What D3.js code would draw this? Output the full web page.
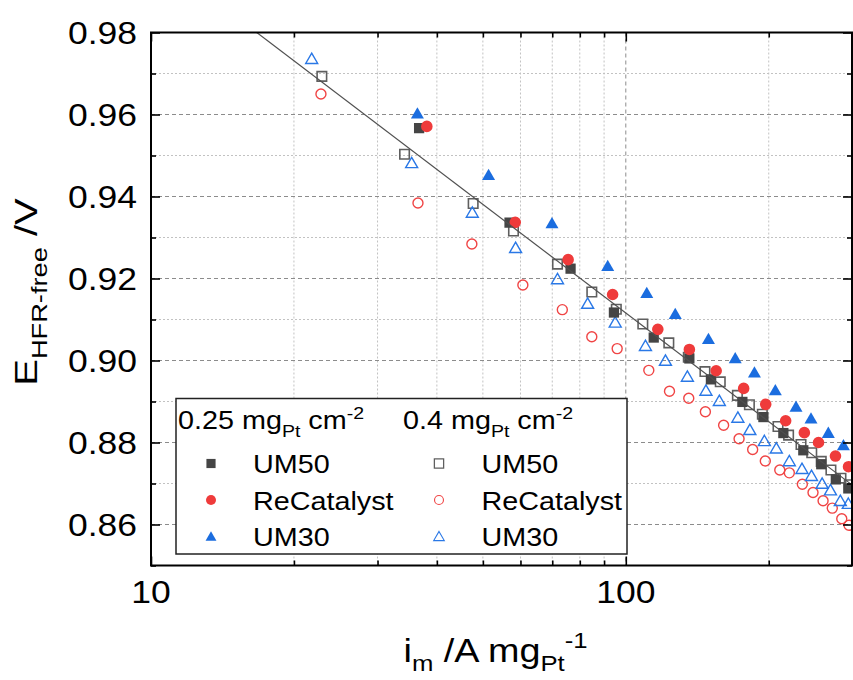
<!DOCTYPE html>
<html><head><meta charset="utf-8">
<script src="https://cdn.jsdelivr.net/npm/d3@7"></script>
<style>
body{margin:0;background:#fff}
svg{display:block}
text{font-family:"Liberation Sans",Arial,sans-serif;fill:#000}
</style>
</head><body>
<svg id="c" width="853" height="680"></svg>
<script>
// ---------- data ----------
const xTickValues = [10, 100];
const xTickLabels = ["10", "100"];
const xMinorTicks = [20, 30, 40, 50, 60, 70, 80, 90, 200];
const yTickValues = [0.86, 0.88, 0.90, 0.92, 0.94, 0.96, 0.98];
const yTickLabels = ["0.86", "0.88", "0.90", "0.92", "0.94", "0.96", "0.98"];
const yMinorTicks = [0.85, 0.87, 0.89, 0.91, 0.93, 0.95, 0.97];

const um50_025_x = [36.7, 56.9, 76.5, 94.4, 114.5, 136.1, 151.1, 176.0, 194.9, 214.7, 236.5, 258.0, 276.9, 294.2];
const um50_025_y = [0.9567, 0.9336, 0.9224, 0.9117, 0.9056, 0.9005, 0.8954, 0.8899, 0.8862, 0.8823, 0.8781, 0.8747, 0.8710, 0.8688];

const recat_025_x = [38.1, 58.5, 75.6, 93.8, 116.8, 136.1, 155.0, 177.1, 197.1, 217.1, 237.7, 254.6, 276.4, 294.5];
const recat_025_y = [0.9571, 0.9337, 0.9246, 0.9161, 0.9076, 0.9027, 0.8975, 0.8932, 0.8893, 0.8853, 0.8824, 0.8800, 0.8767, 0.8741];

const um30_025_x = [36.4, 51.4, 69.9, 91.6, 110.7, 127.1, 149.3, 170.0, 186.6, 206.5, 228.3, 245.5, 267.0, 287.3, 307.0];
const um30_025_y = [0.9604, 0.9454, 0.9336, 0.9232, 0.9166, 0.9115, 0.9054, 0.9007, 0.8972, 0.8929, 0.8889, 0.8860, 0.8825, 0.8795, 0.8764];

const um50_04_x = [22.9, 34.2, 47.7, 58.0, 71.8, 84.8, 95.5, 108.6, 123.2, 135.4, 146.8, 158.1, 171.8, 182.1, 193.9, 209.2, 220.2, 233.9, 246.4, 258.0, 270.4, 283.9, 295.6];
const um50_04_y = [0.9693, 0.9503, 0.9383, 0.9316, 0.9235, 0.9167, 0.9125, 0.9089, 0.9043, 0.9008, 0.8973, 0.8948, 0.8915, 0.8892, 0.8869, 0.8839, 0.8818, 0.8795, 0.8775, 0.8754, 0.8733, 0.8713, 0.8697];

const recat_04_x = [22.8, 36.5, 47.4, 60.7, 73.5, 84.8, 95.9, 111.8, 123.6, 135.7, 147.1, 160.7, 173.2, 185.0, 196.7, 211.0, 221.0, 235.4, 247.9, 260.3, 272.2, 285.0, 295.1];
const recat_04_y = [0.9650, 0.9384, 0.9284, 0.9184, 0.9124, 0.9058, 0.9029, 0.8976, 0.8925, 0.8908, 0.8875, 0.8842, 0.8809, 0.8783, 0.8755, 0.8733, 0.8726, 0.8698, 0.8678, 0.8658, 0.8640, 0.8614, 0.8598];

const um30_04_x = [21.8, 35.4, 47.5, 58.6, 71.8, 83.1, 95.0, 110.0, 121.2, 134.8, 147.5, 157.4, 172.2, 182.5, 195.8, 207.5, 221.0, 235.0, 246.1, 259.1, 269.8, 283.0, 294.2];
const um30_04_y = [0.9737, 0.9483, 0.9362, 0.9276, 0.9200, 0.9140, 0.9094, 0.9037, 0.9001, 0.8962, 0.8928, 0.8903, 0.8862, 0.8832, 0.8805, 0.8787, 0.8756, 0.8737, 0.8720, 0.8701, 0.8685, 0.8659, 0.8652];

const fitX = [10, 300];
const fitY = [0.9996, 0.8696];

const legendHeaders = [["0.25 mg", "Pt", " cm", "-2"], ["0.4 mg", "Pt", " cm", "-2"]];
const legendLabels = ["UM50", "ReCatalyst", "UM30"];

// ---------- layout ----------
const svg = d3.select("#c");
const L = 151, R = 852, T = 32.5, B = 565.5;
const x = d3.scaleLog().domain([10, 299.5]).range([L, R]);
const y = d3.scaleLinear().domain([0.85, 0.98]).range([B, T]);

svg.append("defs").append("clipPath").attr("id", "clip")
  .append("rect").attr("x", L).attr("y", T).attr("width", R - L).attr("height", B - T);

// grid
const grid = svg.append("g");
grid.selectAll(".gxm").data(xMinorTicks).join("line")
  .attr("x1", d => x(d)).attr("x2", d => x(d)).attr("y1", T).attr("y2", B)
  .attr("stroke", "#c2c2c2").attr("stroke-width", 1).attr("stroke-dasharray", "2,2");
grid.selectAll(".gxM").data(xTickValues.filter(d => d > 10)).join("line")
  .attr("x1", d => x(d)).attr("x2", d => x(d)).attr("y1", T).attr("y2", B)
  .attr("stroke", "#8c8c8c").attr("stroke-width", 1).attr("stroke-dasharray", "4,3");
grid.selectAll(".gym").data(yMinorTicks.filter(d => d > 0.855)).join("line")
  .attr("y1", d => y(d)).attr("y2", d => y(d)).attr("x1", L).attr("x2", R)
  .attr("stroke", "#c2c2c2").attr("stroke-width", 1).attr("stroke-dasharray", "2,2");
grid.selectAll(".gyM").data(yTickValues.filter(d => d < 0.975)).join("line")
  .attr("y1", d => y(d)).attr("y2", d => y(d)).attr("x1", L).attr("x2", R)
  .attr("stroke", "#8c8c8c").attr("stroke-width", 1).attr("stroke-dasharray", "4,3");

// markers
const triSide = 13;
const triArea = Math.sqrt(3) / 4 * triSide * triSide;
const triOff = triSide / (2 * Math.sqrt(3)) / 2; // bbox-centre offset
const styles = {
  fsq: {type: d3.symbolSquare, size: 105, fill: "#454545", stroke: "none", sw: 0, dy: 0},
  fci: {type: d3.symbolCircle, size: Math.PI * 5.8 * 5.8, fill: "#ef3b3b", stroke: "none", sw: 0, dy: 0},
  ftr: {type: d3.symbolTriangle, size: triArea, fill: "#1b6ddf", stroke: "none", sw: 0, dy: triOff},
  osq: {type: d3.symbolSquare, size: 90, fill: "none", stroke: "#5f5f5f", sw: 1.6, dy: 0},
  oci: {type: d3.symbolCircle, size: Math.PI * 5 * 5, fill: "none", stroke: "#f04545", sw: 1.4, dy: 0},
  otr: {type: d3.symbolTriangle, size: triArea * 0.85, fill: "none", stroke: "#2a78e6", sw: 1.4, dy: triOff * 0.92}
};
const series = [
  {xs: um50_04_x, ys: um50_04_y, st: "osq"},
  {xs: recat_04_x, ys: recat_04_y, st: "oci"},
  {xs: um30_04_x, ys: um30_04_y, st: "otr"},
  {xs: um50_025_x, ys: um50_025_y, st: "fsq"},
  {xs: recat_025_x, ys: recat_025_y, st: "fci"},
  {xs: um30_025_x, ys: um30_025_y, st: "ftr"}
];
const pts = svg.append("g").attr("clip-path", "url(#clip)");
series.forEach(s => {
  const st = styles[s.st];
  const sym = d3.symbol().type(st.type).size(st.size);
  pts.append("g").selectAll("path").data(s.xs.map((v, i) => [v, s.ys[i]])).join("path")
    .attr("d", sym)
    .attr("transform", d => `translate(${x(d[0])},${y(d[1]) + st.dy})`)
    .attr("fill", st.fill).attr("stroke", st.stroke).attr("stroke-width", st.sw);
});

// fit line
const line = d3.line().x((d, i) => x(fitX[i])).y((d, i) => y(fitY[i]));
svg.append("path").datum(fitX).attr("clip-path", "url(#clip)")
  .attr("d", line).attr("fill", "none").attr("stroke", "#505050").attr("stroke-width", 1.2);

// axes (ticks inward on all sides)
function styleAxis(g) {
  g.select(".domain").remove();
  g.selectAll(".tick line").attr("stroke", "#000").attr("stroke-width", 1.6);
  g.selectAll(".tick text").remove();
}
const axes = svg.append("g");
axes.append("g").attr("transform", `translate(0,${B})`)
  .call(d3.axisBottom(x).tickValues(xTickValues).tickSize(-9).tickFormat("")).call(styleAxis);
axes.append("g").attr("transform", `translate(0,${B})`)
  .call(d3.axisBottom(x).tickValues(xMinorTicks).tickSize(-5).tickFormat("")).call(styleAxis);
axes.append("g").attr("transform", `translate(0,${T})`)
  .call(d3.axisTop(x).tickValues(xTickValues).tickSize(-9).tickFormat("")).call(styleAxis);
axes.append("g").attr("transform", `translate(0,${T})`)
  .call(d3.axisTop(x).tickValues(xMinorTicks).tickSize(-5).tickFormat("")).call(styleAxis);
axes.append("g").attr("transform", `translate(${L},0)`)
  .call(d3.axisLeft(y).tickValues(yTickValues).tickSize(-9).tickFormat("")).call(styleAxis);
axes.append("g").attr("transform", `translate(${L},0)`)
  .call(d3.axisLeft(y).tickValues(yMinorTicks).tickSize(-5).tickFormat("")).call(styleAxis);
axes.append("g").attr("transform", `translate(${R},0)`)
  .call(d3.axisRight(y).tickValues(yTickValues).tickSize(-9).tickFormat("")).call(styleAxis);
axes.append("g").attr("transform", `translate(${R},0)`)
  .call(d3.axisRight(y).tickValues(yMinorTicks).tickSize(-5).tickFormat("")).call(styleAxis);
svg.append("rect").attr("x", L).attr("y", T).attr("width", R - L).attr("height", B - T)
  .attr("fill", "none").attr("stroke", "#000").attr("stroke-width", 2);

// tick labels
const SX = 1.145;
svg.append("g").selectAll("text").data(yTickValues).join("text")
  .attr("transform", d => `translate(137,${y(d) + 11}) scale(${SX},1)`)
  .attr("text-anchor", "end").attr("font-size", 31)
  .text((d, i) => yTickLabels[i]);
svg.append("g").selectAll("text").data(xTickValues).join("text")
  .attr("transform", d => `translate(${x(d)},603) scale(${SX},1)`)
  .attr("text-anchor", "middle").attr("font-size", 31)
  .text((d, i) => xTickLabels[i]);

// rich text helper
function rich(parent, tx, parts, size, anchor, subShift) {
  const t = parent.append("text").attr("transform", tx).attr("font-size", size).attr("text-anchor", anchor || "start");
  let shift = 0;
  const ss = subShift || 0.32;
  parts.forEach(p => {
    const ts = t.append("tspan").text(p.t);
    let target = 0, fs = size;
    if (p.sub) { target = ss * size; fs = 0.68 * size; }
    if (p.sup) { target = -0.42 * size; fs = 0.68 * size; }
    ts.attr("font-size", fs).attr("dy", target - shift);
    shift = target;
  });
  return t;
}

// axis titles
rich(svg, `translate(${(L + R) / 2 - 6},662) scale(${SX},1)`,
  [{t: "i"}, {t: "m", sub: true}, {t: " /A mg"}, {t: "Pt", sub: true}, {t: "-1", sup: true}], 33, "middle", 0.26);
rich(svg, `translate(37,292) rotate(-90) scale(1.25,1)`,
  [{t: "E"}, {t: "HFR-free", sub: true}, {t: " /V"}], 32, "middle");

// legend
const lg = svg.append("g");
lg.append("rect").attr("x", 176).attr("y", 398.5).attr("width", 451).attr("height", 155.5)
  .attr("fill", "#fff").attr("stroke", "#222").attr("stroke-width", 1.5);
const LSX = 1.15;
const hdrX = [178, 403];
legendHeaders.forEach((h, i) => {
  rich(lg, `translate(${hdrX[i]},429) scale(${LSX},1)`,
    [{t: h[0]}, {t: h[1], sub: true}, {t: h[2]}, {t: h[3], sup: true}], 25, "start");
});
const rowY = [463.5, 500, 536];
const rowBase = [473.3, 509.5, 545.7];
const colSym = [211, 439];
const colLab = [253, 481.5];
const legendStyles = [["fsq", "fci", "ftr"], ["osq", "oci", "otr"]];
const legendScale = {fsq: 0.8, fci: 0.75, ftr: 0.7, osq: 0.95, oci: 0.8, otr: 0.78};
legendStyles.forEach((col, ci) => {
  col.forEach((key, ri) => {
    const st = styles[key];
    const k = legendScale[key];
    lg.append("path").attr("d", d3.symbol().type(st.type).size(st.size * k)())
      .attr("transform", `translate(${colSym[ci]},${rowY[ri] + st.dy * Math.sqrt(k)})`)
      .attr("fill", st.fill).attr("stroke", st.stroke).attr("stroke-width", st.sw * 0.8);
    lg.append("text").attr("transform", `translate(${colLab[ci]},${rowBase[ri]}) scale(${LSX},1)`)
      .attr("font-size", 25).text(legendLabels[ri]);
  });
});
</script>
</body></html>
